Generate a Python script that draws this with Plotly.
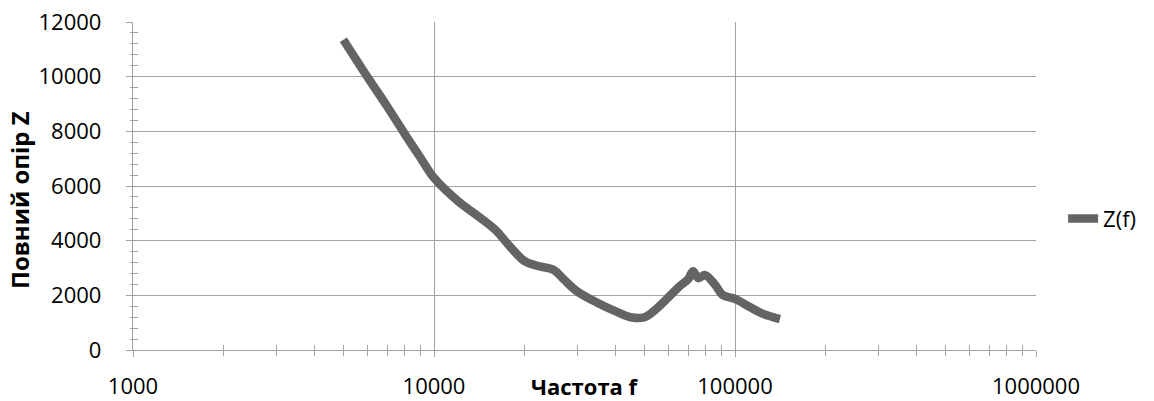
import plotly.graph_objects as go

# Data
freq = [5000, 6000, 7000, 8000, 9000, 10000, 12000, 14000, 16000, 18000, 20000,
        22000, 25000, 27000, 30000, 35000, 40000, 45000, 50000, 55000, 60000,
        65000, 70000, 72500, 75500, 79500, 86000, 91000, 100000, 112000, 124000, 141000]
impedance = [11350, 10000, 8900, 7900, 7050, 6300, 5450, 4900, 4390, 3750, 3250,
             3080, 2930, 2580, 2130, 1720, 1420, 1200, 1200, 1520, 1920,
             2300, 2600, 2880, 2630, 2740, 2380, 2010, 1870, 1570, 1320, 1130]

x_major = [1000, 10000, 100000, 1000000]
x_major_labels = ["1000", "10000", "100000", "1000000"]
x_minor = [m * d for d in (1000, 10000, 100000) for m in range(2, 10)]
y_major = [0, 2000, 4000, 6000, 8000, 10000, 12000]
y_major_labels = ["0", "2000", "4000", "6000", "8000", "10000", "12000"]
y_minor = [v for v in range(0, 12001, 400) if v % 2000 != 0]

series_name = "Z(f)"
x_title = "Частота f"
y_title = "Повний опір Z"

LINE = "#646464"
GRID = "#a3a3a3"
FONT = "Open Sans"
FS = 22

fig = go.Figure()
fig.add_trace(go.Scatter(
    x=freq, y=impedance, mode="lines", name=series_name,
    line=dict(color=LINE, width=8.5, shape="spline", smoothing=1.0),
))
# invisible helper trace for overlay axes (crossing minor ticks)
fig.add_trace(go.Scatter(x=[freq[0]], y=[impedance[0]], xaxis="x2", yaxis="y2",
                         mode="markers", marker=dict(opacity=0), showlegend=False,
                         hoverinfo="skip"))

fig.update_layout(
    width=1154, height=401,
    margin=dict(l=133, r=118, t=22, b=51, autoexpand=False),
    paper_bgcolor="white", plot_bgcolor="white",
    font=dict(family=FONT, size=FS, color="#000000"),
    showlegend=True,
    legend=dict(x=1.03, xanchor="left", y=0.40, yanchor="middle",
                font=dict(family=FONT, size=FS), bgcolor="rgba(0,0,0,0)",
                itemwidth=30),
    xaxis=dict(type="log", range=[3, 6], tickvals=x_major, ticktext=x_major_labels,
               automargin=False,
               showgrid=True, gridcolor=GRID, gridwidth=1.3,
               showline=True, linecolor=GRID, linewidth=1.3,
               ticks="outside", ticklen=6, tickcolor=GRID, tickwidth=1.3,
               ticklabelstandoff=10,
               minor=dict(tickmode="array", tickvals=x_minor, ticks="outside",
                          ticklen=5, tickcolor=GRID, tickwidth=1.3, showgrid=False),
               zeroline=False),
    yaxis=dict(range=[0, 12000], tickvals=y_major, ticktext=y_major_labels,
               automargin=False,
               showgrid=True, gridcolor=GRID, gridwidth=1.3,
               showline=True, linecolor=GRID, linewidth=1.3,
               ticks="outside", ticklen=6, tickcolor=GRID, tickwidth=1.3,
               ticklabelstandoff=20,
               minor=dict(tickmode="array", tickvals=y_minor, ticks="outside",
                          ticklen=2, tickcolor=GRID, tickwidth=1.3, showgrid=False),
               zeroline=False),
    xaxis2=dict(type="log", range=[3, 6], overlaying="x", anchor="y2",
                automargin=False,
                tickvals=x_minor, ticks="inside", ticklen=5, tickcolor=GRID,
                tickwidth=1.3, showticklabels=False, showgrid=False, showline=False,
                zeroline=False),
    yaxis2=dict(range=[0, 12000], overlaying="y", anchor="x2", side="left",
                automargin=False,
                tickvals=y_minor, ticks="inside", ticklen=5, tickcolor=GRID,
                tickwidth=1.3, showticklabels=False, showgrid=False, showline=False,
                zeroline=False),
    annotations=[
        dict(text="<b>" + x_title + "</b>", xref="paper", yref="paper",
             x=0.5, y=-(386 - 350) / 328, xanchor="center", yanchor="middle",
             showarrow=False, font=dict(family=FONT, size=FS)),
        dict(text="<b>" + y_title + "</b>", xref="paper", yref="paper",
             x=-(133 - 19) / 903, y=(350 - 200) / 328, xanchor="center", yanchor="middle",
             textangle=-90, showarrow=False, font=dict(family=FONT, size=FS + 2)),
    ],
)

fig.write_html("out.html")
